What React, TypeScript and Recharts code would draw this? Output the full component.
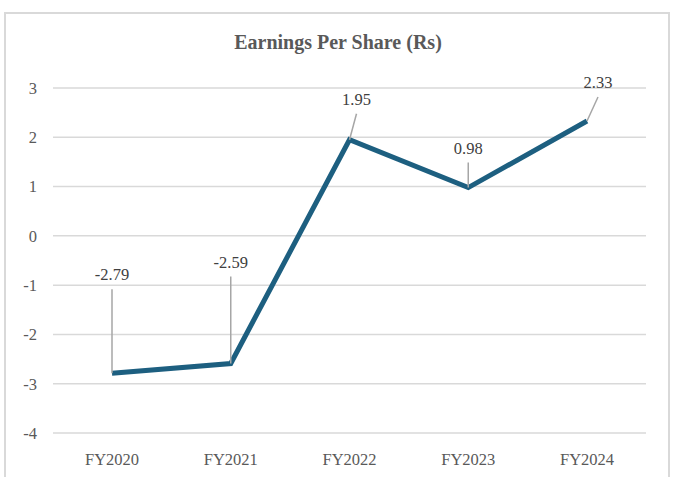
import { LineChart, Line, XAxis, YAxis, CartesianGrid, LabelList } from 'recharts'

const years = ['FY2020', 'FY2021', 'FY2022', 'FY2023', 'FY2024']
const eps = [-2.79, -2.59, 1.95, 0.98, 2.33]
const yTicks = [-4, -3, -2, -1, 0, 1, 2, 3]

// where each data label sits relative to its point (Excel-style dragged labels)
const labelShift = [
  { dx: 0, dy: -98 },
  { dx: 0, dy: -101 },
  { dx: 7, dy: -40 },
  { dx: 0, dy: -39 },
  { dx: 11, dy: -38 },
]

const data = years.map((y, i) => ({ year: y, eps: eps[i] }))

const font = '"Liberation Serif", "DejaVu Serif", serif'
const frame = '#d9d9d9'

function EpsLabel(props: any) {
  const { x, y, value, index } = props
  const s = labelShift[index]
  const lx = x + s.dx
  const ly = y + s.dy
  return (
    <g>
      <line x1={lx} y1={ly + 14} x2={x} y2={y} stroke="#a6a6a6" strokeWidth={1.5} />
      <text x={lx} y={ly + 5} textAnchor="middle" fill="#404040" fontSize={16.5} fontFamily={font}>
        {value}
      </text>
    </g>
  )
}

export default function App() {
  return (
    <div style={{ position: 'fixed', left: 0, top: 0, width: 673, height: 477, background: '#fff', overflow: 'hidden' }}>
      <div style={{ position: 'absolute', left: 0, top: 31, width: 676, textAlign: 'center', fontFamily: font, fontWeight: 'bold', fontSize: 20, color: '#595959' }}>
        Earnings Per Share (Rs)
      </div>
      <div style={{ position: 'absolute', left: 0, top: 0 }}>
        <LineChart width={673} height={477} data={data} margin={{ top: 88, right: 27, bottom: 14, left: 23 }}>
          <CartesianGrid stroke="#d9d9d9" strokeWidth={1.5} vertical={false} />
          <XAxis dataKey="year" axisLine={false} tickLine={false} height={30} tickMargin={14}
            padding={{ left: 59, right: 59 }}
            tick={{ fill: '#595959', fontSize: 16.5, fontFamily: font }} />
          <YAxis domain={[-4, 3]} ticks={yTicks} axisLine={false} tickLine={false} width={30} tickMargin={10}
            tick={{ fill: '#595959', fontSize: 16.5, fontFamily: font }} />
          <Line type="linear" dataKey="eps" stroke="#1d5f80" strokeWidth={5} dot={false} isAnimationActive={false}>
            <LabelList dataKey="eps" content={<EpsLabel />} />
          </Line>
        </LineChart>
      </div>
      <div style={{ position: 'absolute', left: 4, top: 12, width: 666, height: 2, background: frame }} />
      <div style={{ position: 'absolute', left: 4, top: 12, width: 2, height: 470, background: frame }} />
      <div style={{ position: 'absolute', left: 668, top: 12, width: 2, height: 470, background: frame }} />
    </div>
  )
}
